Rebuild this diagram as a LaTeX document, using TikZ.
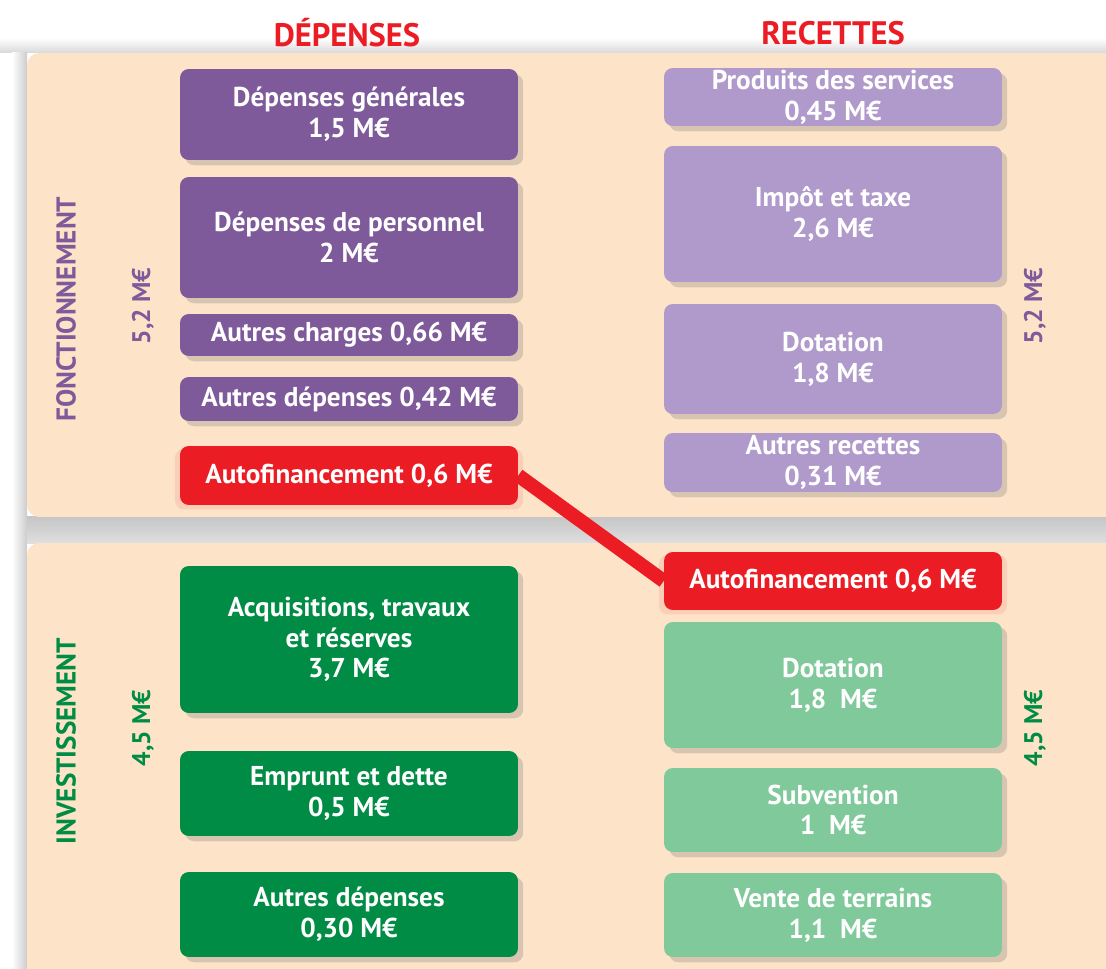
\documentclass[tikz,border=0pt]{standalone}
\usepackage{fontspec}
\setmainfont{PT Sans}
\usetikzlibrary{shadows}

\definecolor{violetfonce}{HTML}{7E5A9B}
\definecolor{violetclair}{HTML}{B099CB}
\definecolor{rouge}{HTML}{EC1C24}
\definecolor{vertfonce}{HTML}{008C45}
\definecolor{vertclair}{HTML}{80C99B}
\definecolor{peche}{HTML}{FDE4C8}

\tikzset{
  poste/.style={rounded corners=5pt, minimum width=6.76cm, inner sep=1pt, align=center,
    text=white, font=\fontsize{15.5}{17.5}\selectfont\bfseries},
  ombre/.style={drop shadow={opacity=0.3, shadow xshift=3pt, shadow yshift=-3pt}},
  depfonc/.style={poste, ombre, fill=violetfonce},
  recfonc/.style={poste, ombre, fill=violetclair},
  depinv/.style={poste, ombre, fill=vertfonce},
  recinv/.style={poste, ombre, fill=vertclair},
  autof/.style={poste, fill=rouge, drop shadow={opacity=0.2, color=rouge!60, shadow xshift=0pt, shadow yshift=-2pt, shadow scale=1.03}},
  titre/.style={font=\fontsize{18.5}{20}\selectfont\bfseries, text=rouge},
  bloc/.style={rotate=90, font=\fontsize{15.5}{17}\selectfont\bfseries},
  total/.style={rotate=90, font=\fontsize{14.5}{16}\selectfont\bfseries}
}

\begin{document}
\begin{tikzpicture}[x=0.02cm, y=-0.02cm]
\clip (0,0) rectangle (1106,969);

% fonds
\shade[top color=white, bottom color=gray!30] (0,38) rectangle (1106,53);
\shade[left color=white, right color=gray!40] (12,53) rectangle (27,969);
\shade[top color=gray!45, bottom color=gray!25] (27,517) rectangle (1106,543);
\fill[peche, rounded corners=7pt] (27,53) rectangle (1130,517);
\fill[peche, rounded corners=7pt] (27,543) rectangle (1130,990);

% titres
\node[titre] (dep) at (347,33) {DÉPENSES};
\node[titre] (rec) at (833,33) {RECETTES};

% fonctionnement
\node[bloc, text=violetfonce] (fonc) at (66,309) {FONCTIONNEMENT};
\node[total, text=violetfonce] (tdf) at (143,306) {5,2 M€};
\node[total, text=violetfonce] (trf) at (1035,306) {5,2 M€};

% investissement
\node[bloc, text=vertfonce] (inv) at (66,741) {INVESTISSEMENT};
\node[total, text=vertfonce] (tdi) at (143,728) {4,5 M€};
\node[total, text=vertfonce] (tri) at (1035,728) {4,5 M€};

% depenses de fonctionnement
\node[depfonc, minimum height=1.82cm] (gen) at (349,114.5) {Dépenses générales\\1,5 M€};
\node[depfonc, minimum height=2.42cm] (pers) at (349,237.5) {Dépenses de personnel\\2 M€};
\node[depfonc, minimum height=0.84cm] (charg) at (349,335) {Autres charges 0,66 M€};
\node[depfonc, minimum height=0.88cm] (adf) at (349,399) {Autres dépenses 0,42 M€};
\node[autof, minimum height=1.18cm] (afd) at (349,475.5) {Autofinancement 0,6 M€};

% recettes de fonctionnement
\node[recfonc, minimum height=1.16cm] (prod) at (833,97) {Produits des services\\0,45 M€};
\node[recfonc, minimum height=2.72cm] (imp) at (833,214) {Impôt et taxe\\2,6 M€};
\node[recfonc, minimum height=2.2cm] (dotf) at (833,359) {Dotation\\1,8 M€};
\node[recfonc, minimum height=1.18cm] (arf) at (833,462.5) {Autres recettes\\0,31 M€};

% depenses d'investissement
\node[depinv, minimum height=2.94cm] (acq) at (349,639.5) {Acquisitions, travaux\\et réserves\\3,7 M€};
\node[depinv, minimum height=1.7cm] (empr) at (349,793.5) {Emprunt et dette\\0,5 M€};
\node[depinv, minimum height=1.7cm] (adi) at (349,914.5) {Autres dépenses\\0,30 M€};

% recettes d'investissement
\node[autof, minimum height=1.16cm] (afr) at (833,581) {Autofinancement 0,6 M€};
\node[recinv, minimum height=2.52cm] (doti) at (833,685) {Dotation\\1,8~~M€};
\node[recinv, minimum height=1.68cm] (subv) at (833,810) {Subvention\\1~~M€};
\node[recinv, minimum height=1.68cm] (vente) at (833,915) {Vente de terrains\\1,1~~M€};

% lien autofinancement
\draw[rouge, line width=8pt] (afd.east) -- (afr.west);
\end{tikzpicture}
\end{document}
